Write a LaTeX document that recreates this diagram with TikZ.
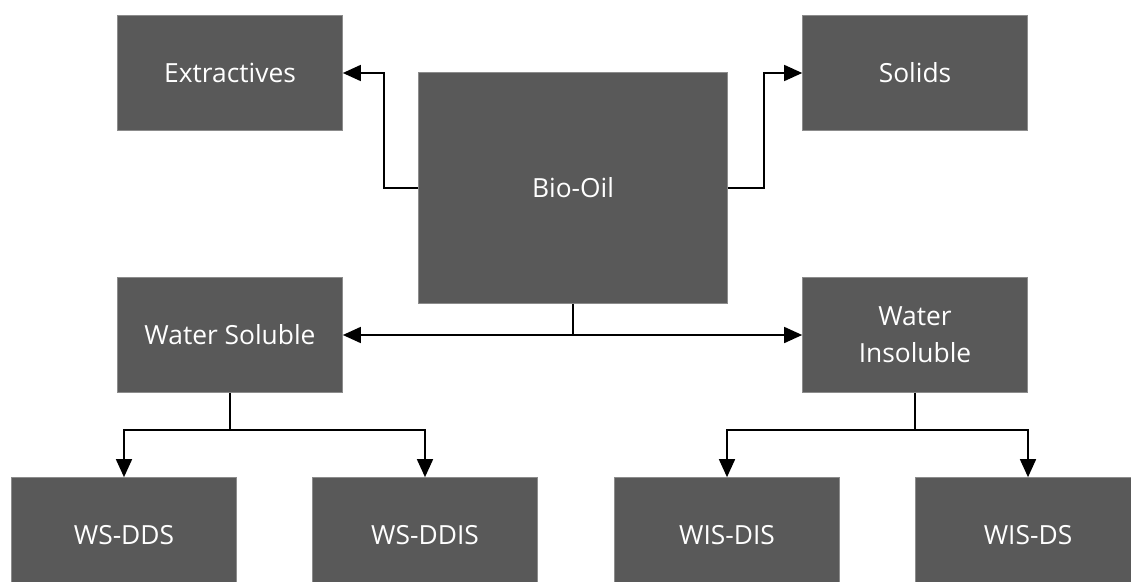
\documentclass[tikz,border=0pt]{standalone}
\usepackage{fontspec}
\setmainfont{Open Sans}
\usepackage{tikz}
\usetikzlibrary{arrows.meta}
\definecolor{boxgray}{HTML}{595959}
\definecolor{edgegray}{HTML}{8C8C8C}

\begin{document}
\begin{tikzpicture}[x=0.02cm,y=-0.02cm,
    block/.style={rectangle, fill=boxgray, draw=edgegray, line width=0.4pt,
      text=white, font=\fontsize{15}{21}\selectfont, align=center,
      minimum width=4.5cm, minimum height=2.3cm, inner sep=0pt},
    link/.style={draw=black, line width=0.9pt},
    tip/.style={-{Triangle[length=0.36cm,width=0.32cm]}}]
      % frame of the picture
      \clip (0,0) rectangle (1131,581);

      % top row
      \node[block] (extr) at (230,73) {Extractives};
      \node[block] (solids) at (915,73) {Solids};
      \node[block, minimum width=6.18cm, minimum height=4.62cm] (bio) at (573,188) {Bio-Oil};

      % middle row
      \node[block] (ws) at (230,335) {Water Soluble};
      \node[block] (wis) at (915,335) {Water\\Insoluble};

      % bottom row
      \node[block] (wsdds) at (124,535) {WS-DDS};
      \node[block] (wsddis) at (425,535) {WS-DDIS};
      \node[block] (wisdis) at (727,535) {WIS-DIS};
      \node[block] (wisds) at (1028,535) {WIS-DS};

      % split points
      \coordinate (bioL) at ([xshift=-0.68cm]bio.west);
      \coordinate (bioR) at ([xshift=0.72cm]bio.east);
      \coordinate (bioS) at (bio.south |- ws.east);
      \coordinate (wsS) at ([yshift=-0.74cm]ws.south);
      \coordinate (wisS) at ([yshift=-0.74cm]wis.south);

      % bio-oil to extractives and solids
      \draw[link, tip] (bio.west) -- (bioL) |- (extr.east);
      \draw[link, tip] (bio.east) -- (bioR) |- (solids.west);

      % bio-oil to water soluble / insoluble
      \draw[link] (bio.south) -- (bioS);
      \draw[link, tip] (bioS) -- (ws.east);
      \draw[link, tip] (bioS) -- (wis.west);

      % water soluble split
      \draw[link] (ws.south) -- (wsS);
      \draw[link, tip] (wsS) -| (wsdds.north);
      \draw[link, tip] (wsS) -| (wsddis.north);

      % water insoluble split
      \draw[link] (wis.south) -- (wisS);
      \draw[link, tip] (wisS) -| (wisdis.north);
      \draw[link, tip] (wisS) -| (wisds.north);
\end{tikzpicture}
\end{document}
